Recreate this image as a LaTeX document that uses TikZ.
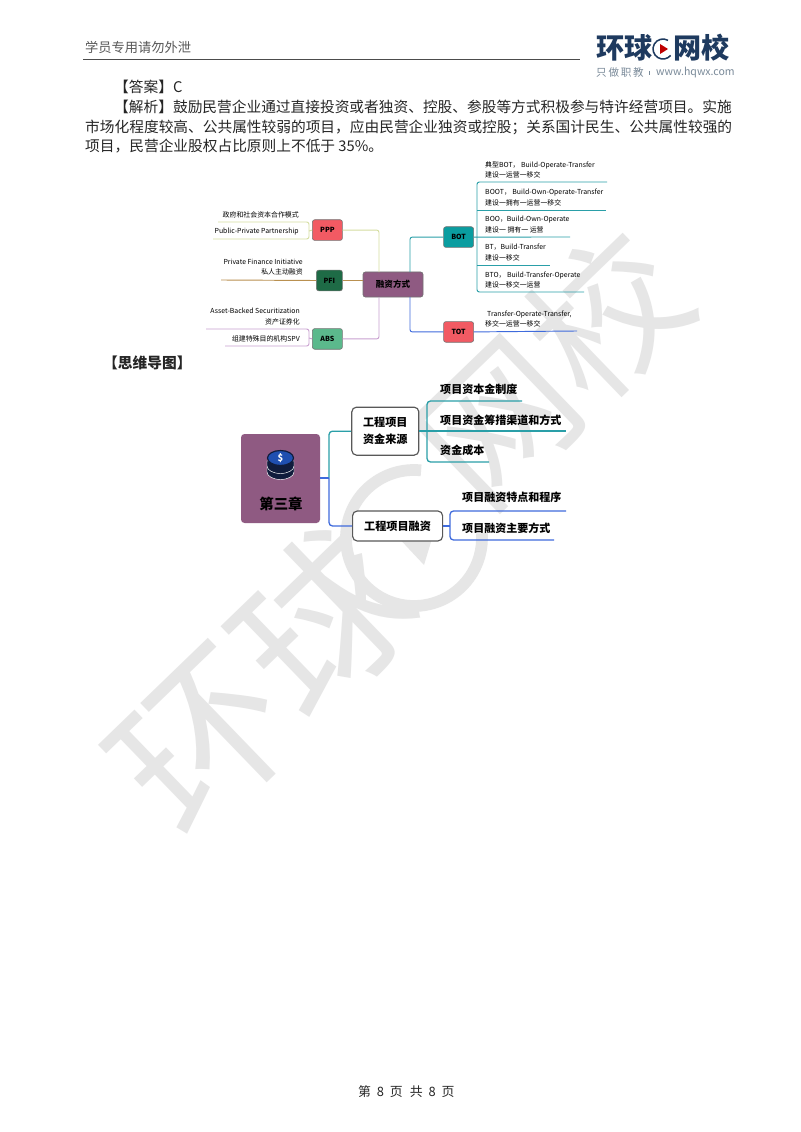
\documentclass[tikz,border=0pt]{standalone}
\usepackage{fontspec}
\setmainfont{Noto Sans CJK SC}
\usepackage{xcolor}
\usetikzlibrary{positioning, calc}
\definecolor{plum}{HTML}{8F5A82}
\definecolor{signred}{HTML}{F25A63}
\definecolor{pinegreen}{HTML}{1E6B46}
\definecolor{mintgreen}{HTML}{5BB98C}
\definecolor{tealbox}{HTML}{0A9DA0}
\definecolor{tealline}{HTML}{2A9FA8}
\definecolor{blueline}{HTML}{3F6BDC}
\definecolor{oliveline}{HTML}{D5DDA0}
\definecolor{tanline}{HTML}{B99050}
\definecolor{lilacline}{HTML}{C9A0D0}
\definecolor{logonavy}{HTML}{1E3A5F}
\definecolor{logogray}{HTML}{7A8A99}
\definecolor{stampgray}{HTML}{E6E6E6}
\definecolor{coinblue}{HTML}{1F4FB0}
\definecolor{coindark}{HTML}{101C3C}
\newcommand{\fsz}[1]{\fontsize{#1}{#1}\selectfont}

\begin{document}
\begin{tikzpicture}[
    x=0.03cm, y=-0.03cm,
    tag/.style={rectangle, draw=black!55, fill=#1, rounded corners=2pt, line width=0.5pt, minimum width=0.9cm, minimum height=0.62cm, inner sep=0pt, font=\fsz{6}\bfseries},
    topic/.style={rectangle, draw=black!65, fill=white, rounded corners=4pt, line width=1pt, minimum height=#1, inner sep=0pt, align=center, font=\fontsize{9.5}{14.5}\selectfont\bfseries},
    link/.style={draw=#1, line width=0.8pt, rounded corners=2pt},
    wire/.style={draw=#1, line width=1.1pt, rounded corners=3pt},
    leaf/.style={inner sep=0pt, anchor=west, font=\fsz{5.9}},
    leafr/.style={inner sep=0pt, anchor=east, font=\fsz{5.9}},
    twig/.style={inner sep=0pt, anchor=west, font=\fsz{9.4}\bfseries},
    body/.style={inner sep=0pt, anchor=west, font=\fsz{12.55}, text=black!85},
]
    \useasboundingbox[fill=white] (0,0) rectangle (800,1132);

    % Watermark
    \node[rotate=44, text=stampgray, font=\fsz{145}, inner sep=0pt] (stampa) at (262,680) {环球};
    \node[rotate=44, text=stampgray, font=\fsz{130}, inner sep=0pt] (stampb) at (552,368) {网校};
    \coordinate (stampo) at (414,538);
    \draw[stampgray, line width=10pt] (stampo) ++(-84:68) arc (-84:-364:68);
    \fill[stampgray] (437,522) -- (424,565) -- (394,533) -- cycle;

    % Header
    \node[body, font=\fsz{11.3}, text=black!65] (hdtext) at (85,47) {学员专用请勿外泄};
    \coordinate (hdleft) at (83,59);
    \coordinate (hdright) at (580,59);
    \draw[black!70, line width=0.7pt] (hdleft) -- (hdright);

    % Logo
    \node[body, font=\fsz{24}\bfseries, text=logonavy] (logoa) at (596,48) {环球};
    \node[body, font=\fsz{24}\bfseries, text=logonavy] (logob) at (673,48) {网校};
    \coordinate (logoo) at (663,49);
    \draw[logonavy, line width=1.3pt] (logoo) ++(-60:10) arc (-60:-320:10);
    \fill[red!75!black] (660,44) -- (668,49) -- (660,54) -- cycle;
    \node[body, font=\fsz{9}, text=logogray] (logoc) at (596,73) {只\,做\,职\,教};
    \node[body, font=\fsz{9}, text=logogray] (logod) at (656,73) {www.hqwx.com};
    \draw[logogray, line width=0.5pt] (649,71) -- (649,75);

    % Text lines
    \node[body] (answer) at (114,87) {【答案】C};
    \node[body] (reason) at (114,107) {【解析】鼓励民营企业通过直接投资或者独资、控股、参股等方式积极参与特许经营项目。实施};
    \node[body] (reasonb) at (85,127) {市场化程度较高、公共属性较弱的项目，应由民营企业独资或控股；关系国计民生、公共属性较强的};
    \node[body] (reasonc) at (85,146) {项目，民营企业股权占比原则上不低于 35\%。};
    \node[body, font=\fsz{12.55}\bfseries] (mapttl) at (103,363) {【思维导图】};
    \node[body, font=\fsz{11}] (footer) at (358,1092) {第\hspace{5pt}8\hspace{5pt}页\hspace{6pt}共\hspace{5pt}8\hspace{5pt}页};

    % Financing map
    \node[tag=plum, minimum width=1.8cm, minimum height=0.75cm, font=\fsz{7.3}\bfseries] (finance) at (393,284.5) {融资方式};
    \node[tag=signred, above left=.93cm and .6cm of finance] (ppp) {PPP};
    \node[tag=pinegreen, minimum width=.78cm, left=.6cm of finance, yshift=.12cm] (pfi) {PFI};
    \node[tag=mintgreen, below left=.93cm and .6cm of finance] (abs) {ABS};
    \node[tag=tealbox, above right=.72cm and .6cm of finance] (bot) {BOT};
    \node[tag=signred, below right=.72cm and .6cm of finance] (tot) {TOT};

    \coordinate (pppfork) at (379,272);
    \coordinate (absfork) at (379,297);
    \coordinate (botfork) at (410,272);
    \coordinate (totfork) at (410,297);
    \draw[link=oliveline] (ppp.east) -| (pppfork);
    \draw[link=lilacline] (abs.east) -| (absfork);
    \draw[link=tanline] (pfi.east) -- (pfi.east -| finance.west);
    \draw[link=tealline] (bot.west) -| (botfork);
    \draw[link=blueline] (tot.west) -| (totfork);

    % Left leaves
    \coordinate (pfiend) at (221,280);
    \draw[link=tanline] (pfi.west) -- (pfiend);
    \coordinate (ppptop) at (218,222);
    \coordinate (pppbot) at (213,239);
    \coordinate (abstop) at (206,329);
    \coordinate (absbot) at (225,346);
    \draw[link=oliveline] (ppptop) -- (309,222) -- (309,239) -- (pppbot);
    \draw[link=oliveline] (ppp.west) -- (309,231);
    \draw[link=lilacline] (abstop) -- (309,329) -- (309,346) -- (absbot);
    \draw[link=lilacline] (abs.west) -- (309,338);
    \node[leafr] (ppplab) at (299,215) {政府和社会资本合作模式};
    \node[leafr] (pppen) at (299,232) {Public-Private Partnership};
    \node[leafr] (pfien) at (303,262) {Private Finance Initiative};
    \node[leafr] (pfilab) at (303,272) {私人主动融资};
    \node[leafr] (absen) at (300,311) {Asset-Backed Securitization};
    \node[leafr] (abslab) at (300,322) {资产证券化};
    \node[leafr] (abspv) at (300,339) {组建特殊目的机构SPV};

    % Right leaves
    \coordinate (botup) at (607,182);
    \coordinate (botb) at (606,210);
    \coordinate (botc) at (570,237);
    \coordinate (botd) at (550,265);
    \coordinate (bote) at (584,292);
    \coordinate (totend) at (577,331);
    \draw[link=tealline] (botup) -- (477,182) -- (477,292) -- (bote);
    \draw[link=tealline] (477,210) -- (botb);
    \draw[link=tealline] (bot.east) -- (botc);
    \draw[link=tealline] (477,265) -- (botd);
    \draw[link=blueline] (tot.east) -- (totend);
    \node[leaf] (ta) at (485,165) {典型BOT， Build-Operate-Transfer};
    \node[leaf] (tb) at (485,175) {建设一运营一移交};
    \node[leaf] (tc) at (485,192) {BOOT， Build-Own-Operate-Transfer};
    \node[leaf] (td) at (485,203) {建设一拥有一运营一移交};
    \node[leaf] (te) at (485,220) {BOO，Build-Own-Operate};
    \node[leaf] (tf) at (485,230) {建设一 拥有一 运营};
    \node[leaf] (tg) at (485,247) {BT，Build-Transfer};
    \node[leaf] (th) at (485,258) {建设一移交};
    \node[leaf] (ti) at (485,275) {BTO， Build-Transfer-Operate};
    \node[leaf] (tj) at (485,285) {建设一移交一运营};
    \node[leaf] (tk) at (487,314) {Transfer-Operate-Transfer,};
    \node[leaf] (tl) at (485,324) {移交一运营一移交};

    % Chapter map
    \node[rectangle, fill=plum, rounded corners=3pt, minimum width=2.37cm, minimum height=2.67cm] (chapter) at (280.5,478.5) {};
    \node[inner sep=0pt, font=\fsz{12.3}\bfseries] (chapttl) at (281,504) {第三章};
    \foreach \y in {472,466} {
        \fill[coindark, draw=white, line width=0.4pt] (267,\y-5) -- (267,\y) arc (180:0:13.5 and 7.5) -- (294,\y-5) -- cycle;
    }
    \fill[coinblue, draw=coindark, line width=1pt] (280.5,458) ellipse (13 and 7.5);
    \node[inner sep=0pt, text=white, font=\fsz{8}\bfseries] (coin) at (280.5,458) {\$};

    \node[topic=1.44cm, minimum width=2.01cm, right=.93cm of chapter, yshift=1.42cm] (source) {工程项目\\资金来源};
    \node[topic=.9cm, minimum width=2.7cm, anchor=west] (raise) at (352,526) {工程项目融资};

    \coordinate (rootfork) at (329,478);
    \draw[wire=tealline] (source.west) -| (rootfork);
    \draw[wire=blueline] (raise.west) -| (rootfork);
    \draw[wire=blueline] (chapter.east |- rootfork) -- (rootfork);

    \coordinate (srca) at (522,401);
    \coordinate (srcb) at (566,431);
    \coordinate (srcc) at (489,462);
    \draw[wire=tealline] (srca) -- (427,401) -- (427,462) -- (srcc);
    \draw[wire=tealline] (source.east |- srcb) -- (srcb);
    \node[twig] (la) at (440,389) {项目资本金制度};
    \node[twig] (lb) at (440,420) {项目资金筹措渠道和方式};
    \node[twig] (lc) at (440,450) {资金成本};

    \coordinate (rsa) at (566,511);
    \coordinate (rsb) at (554,540);
    \draw[wire=blueline] (rsa) -- (450,511) -- (450,540) -- (rsb);
    \draw[wire=blueline] (raise.east) -- (450,526);
    \node[twig] (ld) at (462,497) {项目融资特点和程序};
    \node[twig] (le) at (462,528) {项目融资主要方式};
\end{tikzpicture}
\end{document}
